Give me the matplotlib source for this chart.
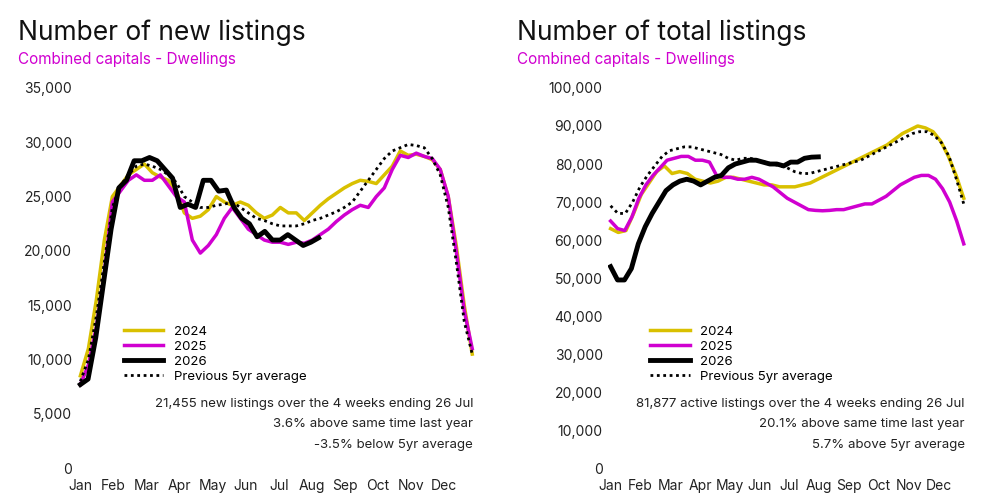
import matplotlib
matplotlib.use("Agg")
import matplotlib.pyplot as plt
import numpy as np

months = ["Jan","Feb","Mar","Apr","May","Jun","Jul","Aug","Sep","Oct","Nov","Dec"]

new_2024 = [8500,11000,15500,21000,25000,26000,27000,27500,28000,27200,26800,26500,25500,23500,23000,23200,23800,25000,24500,24200,24500,24200,23500,23000,23300,24000,23500,23500,22800,23500,24200,24800,25300,25800,26200,26500,26400,26200,27000,27800,29200,28800,28900,28700,28400,27500,25000,20500,15000,10500]
new_2025 = [7700,9500,13000,18000,24500,25500,26500,27000,26500,26500,27000,26000,25000,24500,21000,19800,20500,21500,23000,24000,23000,22000,21500,21000,20800,20800,20600,20800,20700,21000,21500,22000,22700,23300,23800,24200,24000,25000,25800,27500,28800,28600,29000,28700,28500,27500,25000,20000,14500,11000]
new_2026 = [7700,8200,12000,17000,22000,25800,26500,28300,28300,28600,28300,27500,26700,24000,24300,24000,26500,26500,25500,25600,24000,23000,22500,21300,21800,21000,21000,21500,21000,20500,20800,21200]
new_avg = [8000,10000,14000,19000,24000,26000,27000,27800,28000,27800,27500,27000,26300,25000,24500,24000,24000,24200,24300,24500,24000,23500,23000,22800,22500,22300,22300,22300,22500,22800,23000,23300,23600,24000,24500,25500,26500,27500,28500,29200,29500,29800,29700,29500,28500,27000,24000,19000,13500,10500]

tot_2024 = [63000,62000,62500,67000,72000,75000,78000,79500,77500,78000,77500,76000,75500,75000,75500,76500,76500,76000,75500,75000,74500,74500,74000,74000,74000,74500,75000,76000,77000,78000,79000,80000,81000,82000,83000,84000,85000,86500,88000,89000,90000,89500,88500,86000,82000,77000,71000]
tot_2025 = [65000,63000,62500,66000,71000,74500,77000,79000,81000,81500,82000,82000,81000,81000,80500,77000,76500,76500,76000,76000,76500,76000,75000,74000,72500,71000,70000,69000,68000,67800,67700,67800,68000,68000,68500,69000,69500,69500,70500,71500,73000,74500,75500,76500,77000,77000,76000,73500,70000,65000,59000]
tot_2026 = [53000,49500,49500,52500,59000,63500,67000,70000,73000,74500,75500,76000,75500,74500,75500,76500,77000,79000,80000,80500,81000,81000,80500,80000,80000,79500,80500,80500,81500,81800,81877]
tot_avg = [69000,67000,67000,70000,74000,77000,79500,82000,83500,84000,84500,84500,84000,83500,83000,82500,81500,81000,81500,81500,81000,80500,80000,79500,79000,78000,77500,77500,78000,78500,79000,79500,80000,80500,81000,82000,83000,84000,85000,86000,87000,88000,88500,88500,87500,85500,82000,76000,69500]

YEL = "#D9C000"; PUR = "#D000D0"; BLK = "#000000"
END = 11.85
STEP = END / 51

fig = plt.figure(figsize=(9.88, 4.97), dpi=100)
plt.rcParams['font.family'] = ['Inter', 'DejaVu Sans']

def panel(rect, data, ylim, ystep, title, notes):
    ax = fig.add_axes(rect)
    y24, y25, y26, yav = data
    ax.plot(np.linspace(0, END, len(y24)), y24, color=YEL, lw=2.5, label="2024")
    ax.plot(np.linspace(0, END, len(y25)), y25, color=PUR, lw=2.5, label="2025")
    ax.plot(np.arange(len(y26)) * STEP, y26, color=BLK, lw=3.5, label="2026")
    ax.plot(np.linspace(0, END, len(yav)), yav, color=BLK, lw=2, ls=(0, (1, 1.3)), label="Previous 5yr average")
    ax.set_xlim(-0.1, 12)
    ax.set_ylim(*ylim)
    ax.set_yticks(np.arange(ylim[0], ylim[1] + 1, ystep))
    ax.set_yticklabels([f"{int(v):,}" for v in np.arange(ylim[0], ylim[1] + 1, ystep)])
    ax.set_xticks(range(12))
    ax.set_xticklabels(months)
    for s in ax.spines.values():
        s.set_visible(False)
    ax.tick_params(length=0, labelsize=10, colors="#222222")
    ax.tick_params(axis='x', pad=8)
    ax.legend(loc="center left", bbox_to_anchor=(0.1, 0.3), frameon=False, fontsize=9.5,
              handlelength=3, labelspacing=0.2, borderpad=0)
    for i, t in enumerate(notes):
        ax.text(0.99, 0.17 - i * 0.055, t, transform=ax.transAxes, ha="right", va="center", fontsize=9.5, color="#222222")
    return ax

a1 = panel([0.078, 0.058, 0.405, 0.765], (new_2024, new_2025, new_2026, new_avg), (0, 35000), 5000,
           "", ["21,455 new listings over the 4 weeks ending 26 Jul",
                "3.6% above same time last year", "-3.5% below 5yr average"])
a2 = panel([0.615, 0.058, 0.365, 0.765], (tot_2024, tot_2025, tot_2026, tot_avg), (0, 100000), 10000,
           "", ["81,877 active listings over the 4 weeks ending 26 Jul",
                "20.1% above same time last year", "5.7% above 5yr average"])

fig.text(0.018, 0.935, "Number of new listings", fontsize=19, color="#111111", va="center")
fig.text(0.018, 0.88, "Combined capitals - Dwellings", fontsize=11, color=PUR, va="center")
fig.text(0.523, 0.935, "Number of total listings", fontsize=19, color="#111111", va="center")
fig.text(0.523, 0.88, "Combined capitals - Dwellings", fontsize=11, color=PUR, va="center")

fig.savefig("out.png", dpi=100, facecolor="white")
